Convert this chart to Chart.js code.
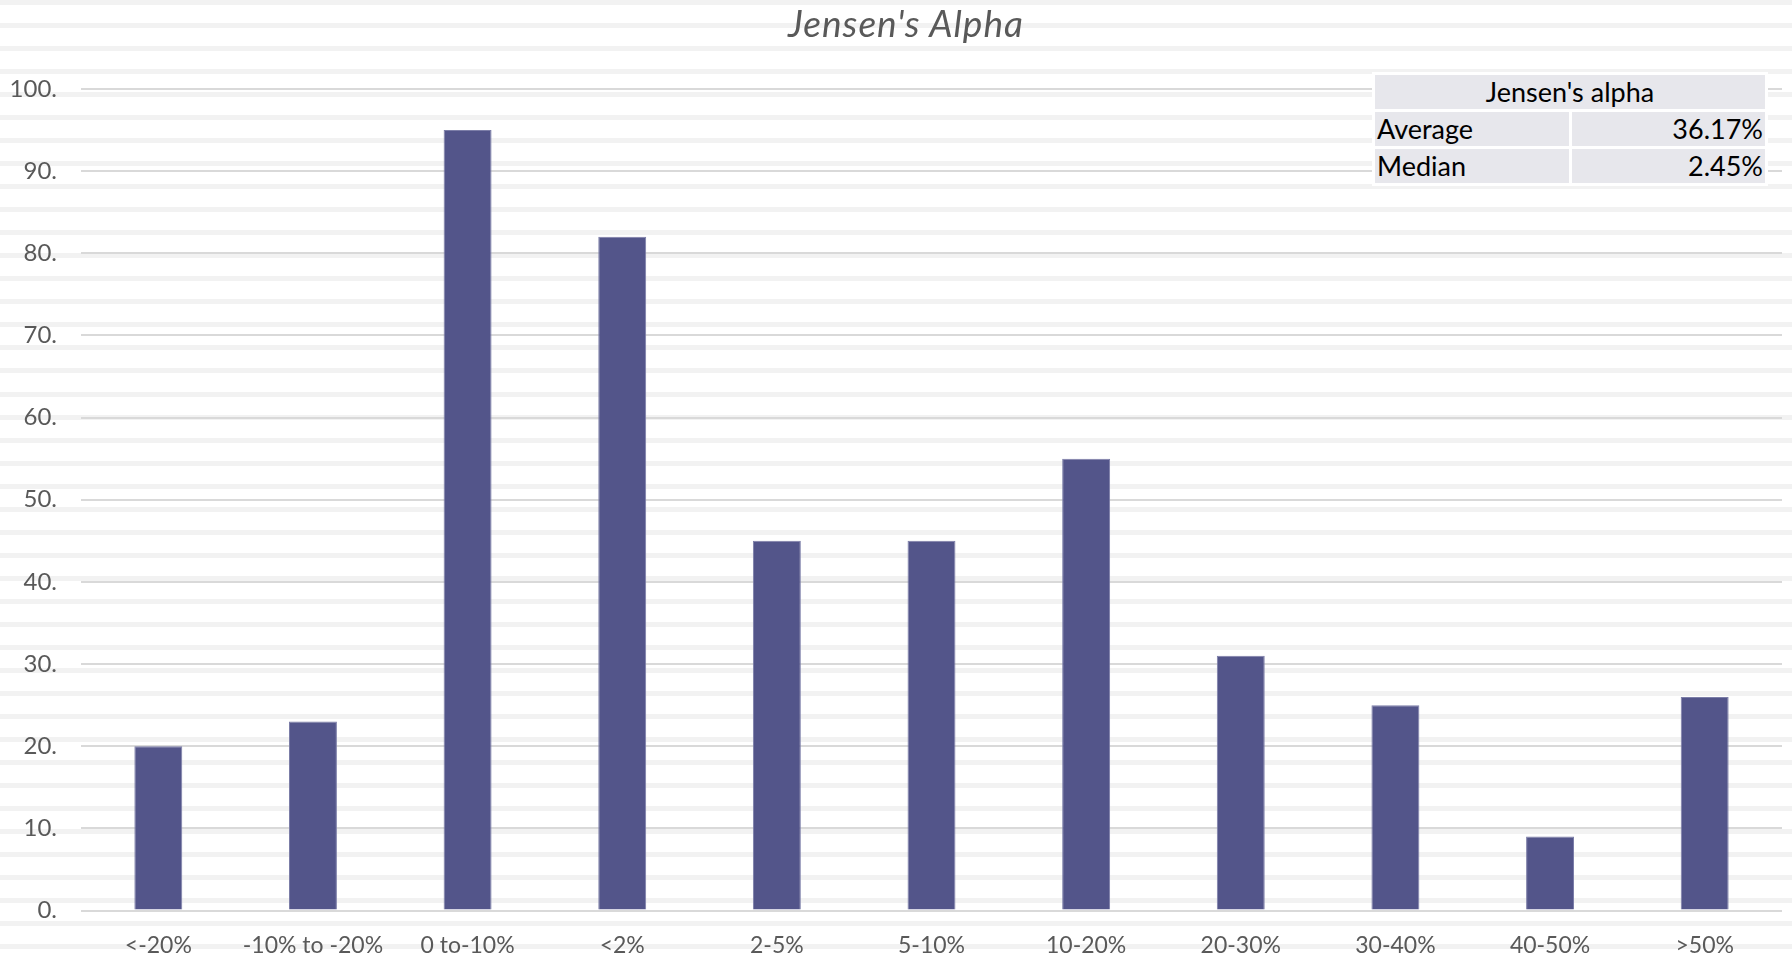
<!DOCTYPE html>
<html>
<head>
<meta charset="utf-8">
<script src="https://cdn.jsdelivr.net/npm/chart.js@4.4.0/dist/chart.umd.min.js"></script>
<style>
    html, body { margin: 0; padding: 0; background: #fff; }
    #wrap { position: relative; width: 1792px; height: 957px; overflow: hidden; }
    #title {
        position: absolute; left: 906px; top: 2px; transform: translateX(-50%);
        font-family: Lato, "Open Sans", sans-serif; font-style: italic;
        font-size: 37px; line-height: 42px; letter-spacing: 1px; color: #595959; white-space: nowrap;
    }
    #stats {
        position: absolute; left: 1372px; top: 72px;
        background: #fff; border-collapse: separate; border-spacing: 3px;
        font-family: Lato, "Open Sans", sans-serif; font-size: 27px; color: #000;
    }
    #stats td {
        background: #e7e7ec; height: 34px; line-height: 34px; padding: 0 2px;
        white-space: nowrap;
    }
    #stats td.num { text-align: right; }
    #stats th {
        background: #e7e7ec; height: 34px; line-height: 34px; padding: 0;
        font-weight: normal; text-align: center;
    }
</style>
</head>
<body>
<div id="wrap">
    <canvas id="chart" width="1792" height="957"></canvas>
    <div id="title"></div>
    <table id="stats"></table>
</div>
<script>
// Chart data
const categories = ['<-20%', '-10% to -20%', '0 to-10%', '<2%', '2-5%', '5-10%', '10-20%', '20-30%', '30-40%', '40-50%', '>50%'];
const counts = [20, 23, 95, 82, 45, 45, 55, 31, 25, 9, 26];
const yTicks = [0, 10, 20, 30, 40, 50, 60, 70, 80, 90, 100];

// Summary table
const tableTitle = "Jensen's alpha";
const statLabels = ['Average', 'Median'];
const statValues = ['36.17%', '2.45%'];

const chartTitle = "Jensen's Alpha";

const colors = {
    bar: '#53558a',
    barEdge: '#7c7ea8',
    grid: '#d9d9d9',
    text: '#595959',
    stripe: '#f2f2f2'
};

document.getElementById('title').textContent = chartTitle;

// build the stats table
const table = document.getElementById('stats');
let html = `<tr><th colspan="2">${tableTitle}</th></tr>`;
statLabels.forEach((label, i) => {
    html += `<tr><td style="width:190px">${label}</td><td class="num" style="width:189px">${statValues[i]}</td></tr>`;
});
table.innerHTML = html;

// Striped background behind everything
const stripes = {
    id: 'stripes',
    beforeDraw(chart) {
        const c = chart.ctx;
        c.save();
        c.fillStyle = '#fff';
        c.fillRect(0, 0, chart.width, chart.height);
        c.fillStyle = colors.stripe;
        for (let y = 0; y < chart.height; y += 23.03) {
            c.fillRect(0, Math.round(y), chart.width, 5);
        }
        c.restore();
    }
};

const font = { family: 'Lato, "Open Sans", sans-serif', size: 23 };

new Chart(document.getElementById('chart'), {
    type: 'bar',
    data: {
        labels: categories,
        datasets: [{
            data: counts,
            backgroundColor: colors.bar,
            borderColor: colors.barEdge,
            borderWidth: 1,
            barPercentage: 0.31,
            categoryPercentage: 1
        }]
    },
    options: {
        responsive: false,
        animation: false,
        layout: { padding: { top: 89, right: 10, left: 0, bottom: 0 } },
        plugins: {
            legend: { display: false },
            tooltip: { enabled: false }
        },
        scales: {
            x: {
                grid: { display: false },
                border: { display: false },
                ticks: { color: colors.text, font: font, padding: 13, maxRotation: 0, autoSkip: false },
                afterFit: (s) => { s.height = 46.5; }
            },
            y: {
                min: 0,
                max: 100,
                afterBuildTicks: (s) => { s.ticks = yTicks.map(v => ({ value: v })); },
                grid: { color: colors.grid, lineWidth: 2, drawTicks: false },
                border: { display: false },
                ticks: {
                    color: colors.text,
                    font: { family: font.family, size: 24 },
                    padding: 24,
                    callback: (v) => v + '.'
                },
                afterFit: (s) => { s.width = 81; }
            }
        }
    },
    plugins: [stripes]
});
</script>
</body>
</html>
